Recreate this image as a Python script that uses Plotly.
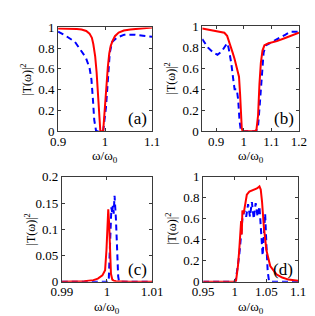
import plotly.graph_objects as go

# Panel (a)
a_red_x = [0.9, 0.92, 0.94, 0.95, 0.96, 0.967, 0.972, 0.975, 0.979, 0.982, 0.984, 0.986, 0.988, 0.99, 0.996, 0.999, 1.001, 1.004, 1.006, 1.009, 1.012, 1.016, 1.021, 1.029, 1.04, 1.054, 1.08, 1.1]
a_red_y = [0.99, 0.99, 0.985, 0.98, 0.965, 0.94, 0.9, 0.84, 0.72, 0.57, 0.42, 0.23, 0.08, 0.0, 0.0, 0.2, 0.35, 0.51, 0.62, 0.75, 0.82, 0.87, 0.915, 0.95, 0.97, 0.98, 0.995, 1.0]
a_blue_x = [0.9, 0.916, 0.936, 0.949, 0.959, 0.967, 0.971, 0.974, 0.977, 0.981, 0.996, 1.002, 1.006, 1.01, 1.015, 1.025, 1.041, 1.061, 1.081, 1.1]
a_blue_y = [0.96, 0.92, 0.86, 0.78, 0.71, 0.61, 0.5, 0.32, 0.11, 0.0, 0.0, 0.23, 0.51, 0.75, 0.86, 0.9, 0.93, 0.93, 0.92, 0.91]

# Panel (b)
b_red_x = [0.85, 0.87, 0.9, 0.93, 0.94, 0.95, 0.96, 0.967, 0.975, 0.983, 0.987, 0.99, 0.993, 0.996, 1.04, 1.046, 1.052, 1.057, 1.062, 1.068, 1.075, 1.09, 1.12, 1.15, 1.2]
b_red_y = [0.98, 0.97, 0.96, 0.94, 0.91, 0.84, 0.75, 0.69, 0.6, 0.52, 0.35, 0.15, 0.03, 0.0, 0.0, 0.01, 0.15, 0.45, 0.65, 0.77, 0.82, 0.84, 0.86, 0.89, 0.94]
b_blue_x = [0.85, 0.87, 0.89, 0.905, 0.92, 0.935, 0.94, 0.945, 0.955, 0.962, 0.967, 0.975, 0.98, 0.985, 0.99, 1.045, 1.052, 1.058, 1.065, 1.072, 1.08, 1.095, 1.12, 1.15, 1.17, 1.2]
b_blue_y = [0.88, 0.8, 0.75, 0.73, 0.76, 0.83, 0.84, 0.8, 0.65, 0.5, 0.4, 0.4, 0.3, 0.1, 0.0, 0.0, 0.05, 0.25, 0.55, 0.75, 0.82, 0.84, 0.88, 0.92, 0.95, 0.95]

# Panel (c)
c_red_x = [0.99, 0.995, 0.997, 0.998, 0.999, 0.9996, 0.9999, 1.0001, 1.0003, 1.0005, 1.0007, 1.0009, 1.0012, 1.0015, 1.002, 1.005, 1.01]
c_red_y = [0.0, 0.001, 0.003, 0.006, 0.012, 0.022, 0.06, 0.11, 0.138, 0.11, 0.05, 0.015, 0.004, 0.002, 0.001, 0.0, 0.0]
c_blue_x = [0.99, 1.0004, 1.0006, 1.0008, 1.001, 1.0012, 1.0013, 1.0015, 1.0017, 1.002, 1.0022, 1.0025, 1.0027, 1.01]
c_blue_y = [0.0, 0.0, 0.05, 0.12, 0.142, 0.13, 0.145, 0.13, 0.164, 0.12, 0.07, 0.01, 0.0, 0.0]

# Panel (d)
d_red_x = [0.95, 1.0, 1.002, 1.005, 1.007, 1.009, 1.01, 1.011, 1.012, 1.014, 1.017, 1.019, 1.023, 1.03, 1.035, 1.039, 1.041, 1.043, 1.046, 1.05, 1.056, 1.066, 1.075, 1.085, 1.1]
d_red_y = [0.0, 0.002, 0.01, 0.15, 0.3, 0.5, 0.58, 0.45, 0.68, 0.65, 0.77, 0.83, 0.86, 0.88, 0.89, 0.91, 0.88, 0.77, 0.52, 0.3, 0.15, 0.07, 0.04, 0.02, 0.01]
d_blue_x = [0.95, 1.001, 1.004, 1.007, 1.01, 1.012, 1.015, 1.018, 1.021, 1.024, 1.027, 1.03, 1.033, 1.036, 1.039, 1.042, 1.044, 1.046, 1.048, 1.05, 1.052, 1.054, 1.056, 1.1]
d_blue_y = [0.0, 0.0, 0.12, 0.25, 0.45, 0.6, 0.68, 0.62, 0.74, 0.62, 0.76, 0.6, 0.75, 0.62, 0.72, 0.45, 0.25, 0.45, 0.65, 0.35, 0.1, 0.01, 0.0, 0.0]

W, H = 315, 316
FONT = "Liberation Serif, Times New Roman, Times, serif"

panels = [
    dict(red=(a_red_x, a_red_y), blue=(a_blue_x, a_blue_y), px=(42, 143), py=(13, 122),
         xr=[0.9, 1.1], xt=[0.9, 1.0, 1.1], xtt=["0.9", "1", "1.1"],
         yr=[0, 1], yt=[0, 0.2, 0.4, 0.6, 0.8, 1], ytt=["0", "0.2", "0.4", "0.6", "0.8", "1"], lab="(a)"),
    dict(red=(b_red_x, b_red_y), blue=(b_blue_x, b_blue_y), px=(197, 301), py=(12, 122),
         xr=[0.85, 1.2], xt=[0.9, 1.0, 1.1, 1.2], xtt=["0.9", "1", "1.1", "1.2"],
         yr=[0, 1], yt=[0, 0.2, 0.4, 0.6, 0.8, 1], ytt=["0", "0.2", "0.4", "0.6", "0.8", "1"], lab="(b)"),
    dict(red=(c_red_x, c_red_y), blue=(c_blue_x, c_blue_y), px=(46, 143), py=(170, 280),
         xr=[0.99, 1.01], xt=[0.99, 1.0, 1.01], xtt=["0.99", "1", "1.01"],
         yr=[0, 0.2], yt=[0, 0.05, 0.1, 0.15, 0.2], ytt=["0", "0.05", "0.1", "0.15", "0.2"], lab="(c)"),
    dict(red=(d_red_x, d_red_y), blue=(d_blue_x, d_blue_y), px=(198, 300), py=(170, 280),
         xr=[0.95, 1.1], xt=[0.95, 1.0, 1.05, 1.1], xtt=["0.95", "1", "1.05", "1.1"],
         yr=[0, 1], yt=[0, 0.2, 0.4, 0.6, 0.8, 1], ytt=["0", "0.2", "0.4", "0.6", "0.8", "1"], lab="(d)"),
]

fig = go.Figure()
layout = dict(width=W, height=H, margin=dict(l=0, r=0, t=0, b=0),
              paper_bgcolor="white", plot_bgcolor="white", showlegend=False,
              font=dict(family=FONT, size=13, color="black"), annotations=[])

for i, p in enumerate(panels):
    n = i + 1
    xa = "x" if n == 1 else f"x{n}"
    ya = "y" if n == 1 else f"y{n}"
    fig.add_trace(go.Scatter(x=p["blue"][0], y=p["blue"][1], mode="lines", xaxis=xa, yaxis=ya,
                             line=dict(color="#0000ff", width=2, dash="6px,4px"), cliponaxis=True))
    fig.add_trace(go.Scatter(x=p["red"][0], y=p["red"][1], mode="lines", xaxis=xa, yaxis=ya,
                             line=dict(color="#ff0000", width=2), cliponaxis=True))
    x0, x1 = p["px"]
    y0, y1 = p["py"]
    common = dict(showgrid=False, zeroline=False, showline=True, linecolor="#3a3a3a", linewidth=1,
                  mirror="allticks", ticks="inside", ticklen=3, tickcolor="#3a3a3a",
                  tickfont=dict(family=FONT, size=13, color="black"))
    layout[f"xaxis{'' if n == 1 else n}"] = dict(common, domain=[x0 / W, x1 / W], range=p["xr"],
                                                  tickvals=p["xt"], ticktext=p["xtt"], anchor=ya,
                                                  ticklabelstandoff=-2)
    layout[f"yaxis{'' if n == 1 else n}"] = dict(common, domain=[1 - y1 / H, 1 - y0 / H], range=p["yr"],
                                                  tickvals=p["yt"], ticktext=p["ytt"], anchor=xa)
    # panel label
    layout["annotations"].append(dict(text=p["lab"], xref="paper", yref="paper",
                                      x=(x1 - 3) / W, y=1 - (y1 - 1) / H, xanchor="right", yanchor="bottom",
                                      showarrow=False, font=dict(family=FONT, size=17, color="black")))
    # y title
    layout["annotations"].append(dict(text="|T(ω)|<sup>2</sup>", xref="paper", yref="paper",
                                      x=(x0 - 34) / W, y=1 - ((y0 + y1) / 2) / H, xanchor="center", yanchor="middle",
                                      textangle=-90, showarrow=False, font=dict(family=FONT, size=12, color="black")))
    # x title
    layout["annotations"].append(dict(text="ω/ω<sub>0</sub>", xref="paper", yref="paper",
                                      x=((x0 + x1) / 2) / W, y=1 - (y1 + 27) / H, xanchor="center", yanchor="middle",
                                      showarrow=False, font=dict(family=FONT, size=13, color="black")))

fig.update_layout(**layout)
fig.write_html("out.html")
